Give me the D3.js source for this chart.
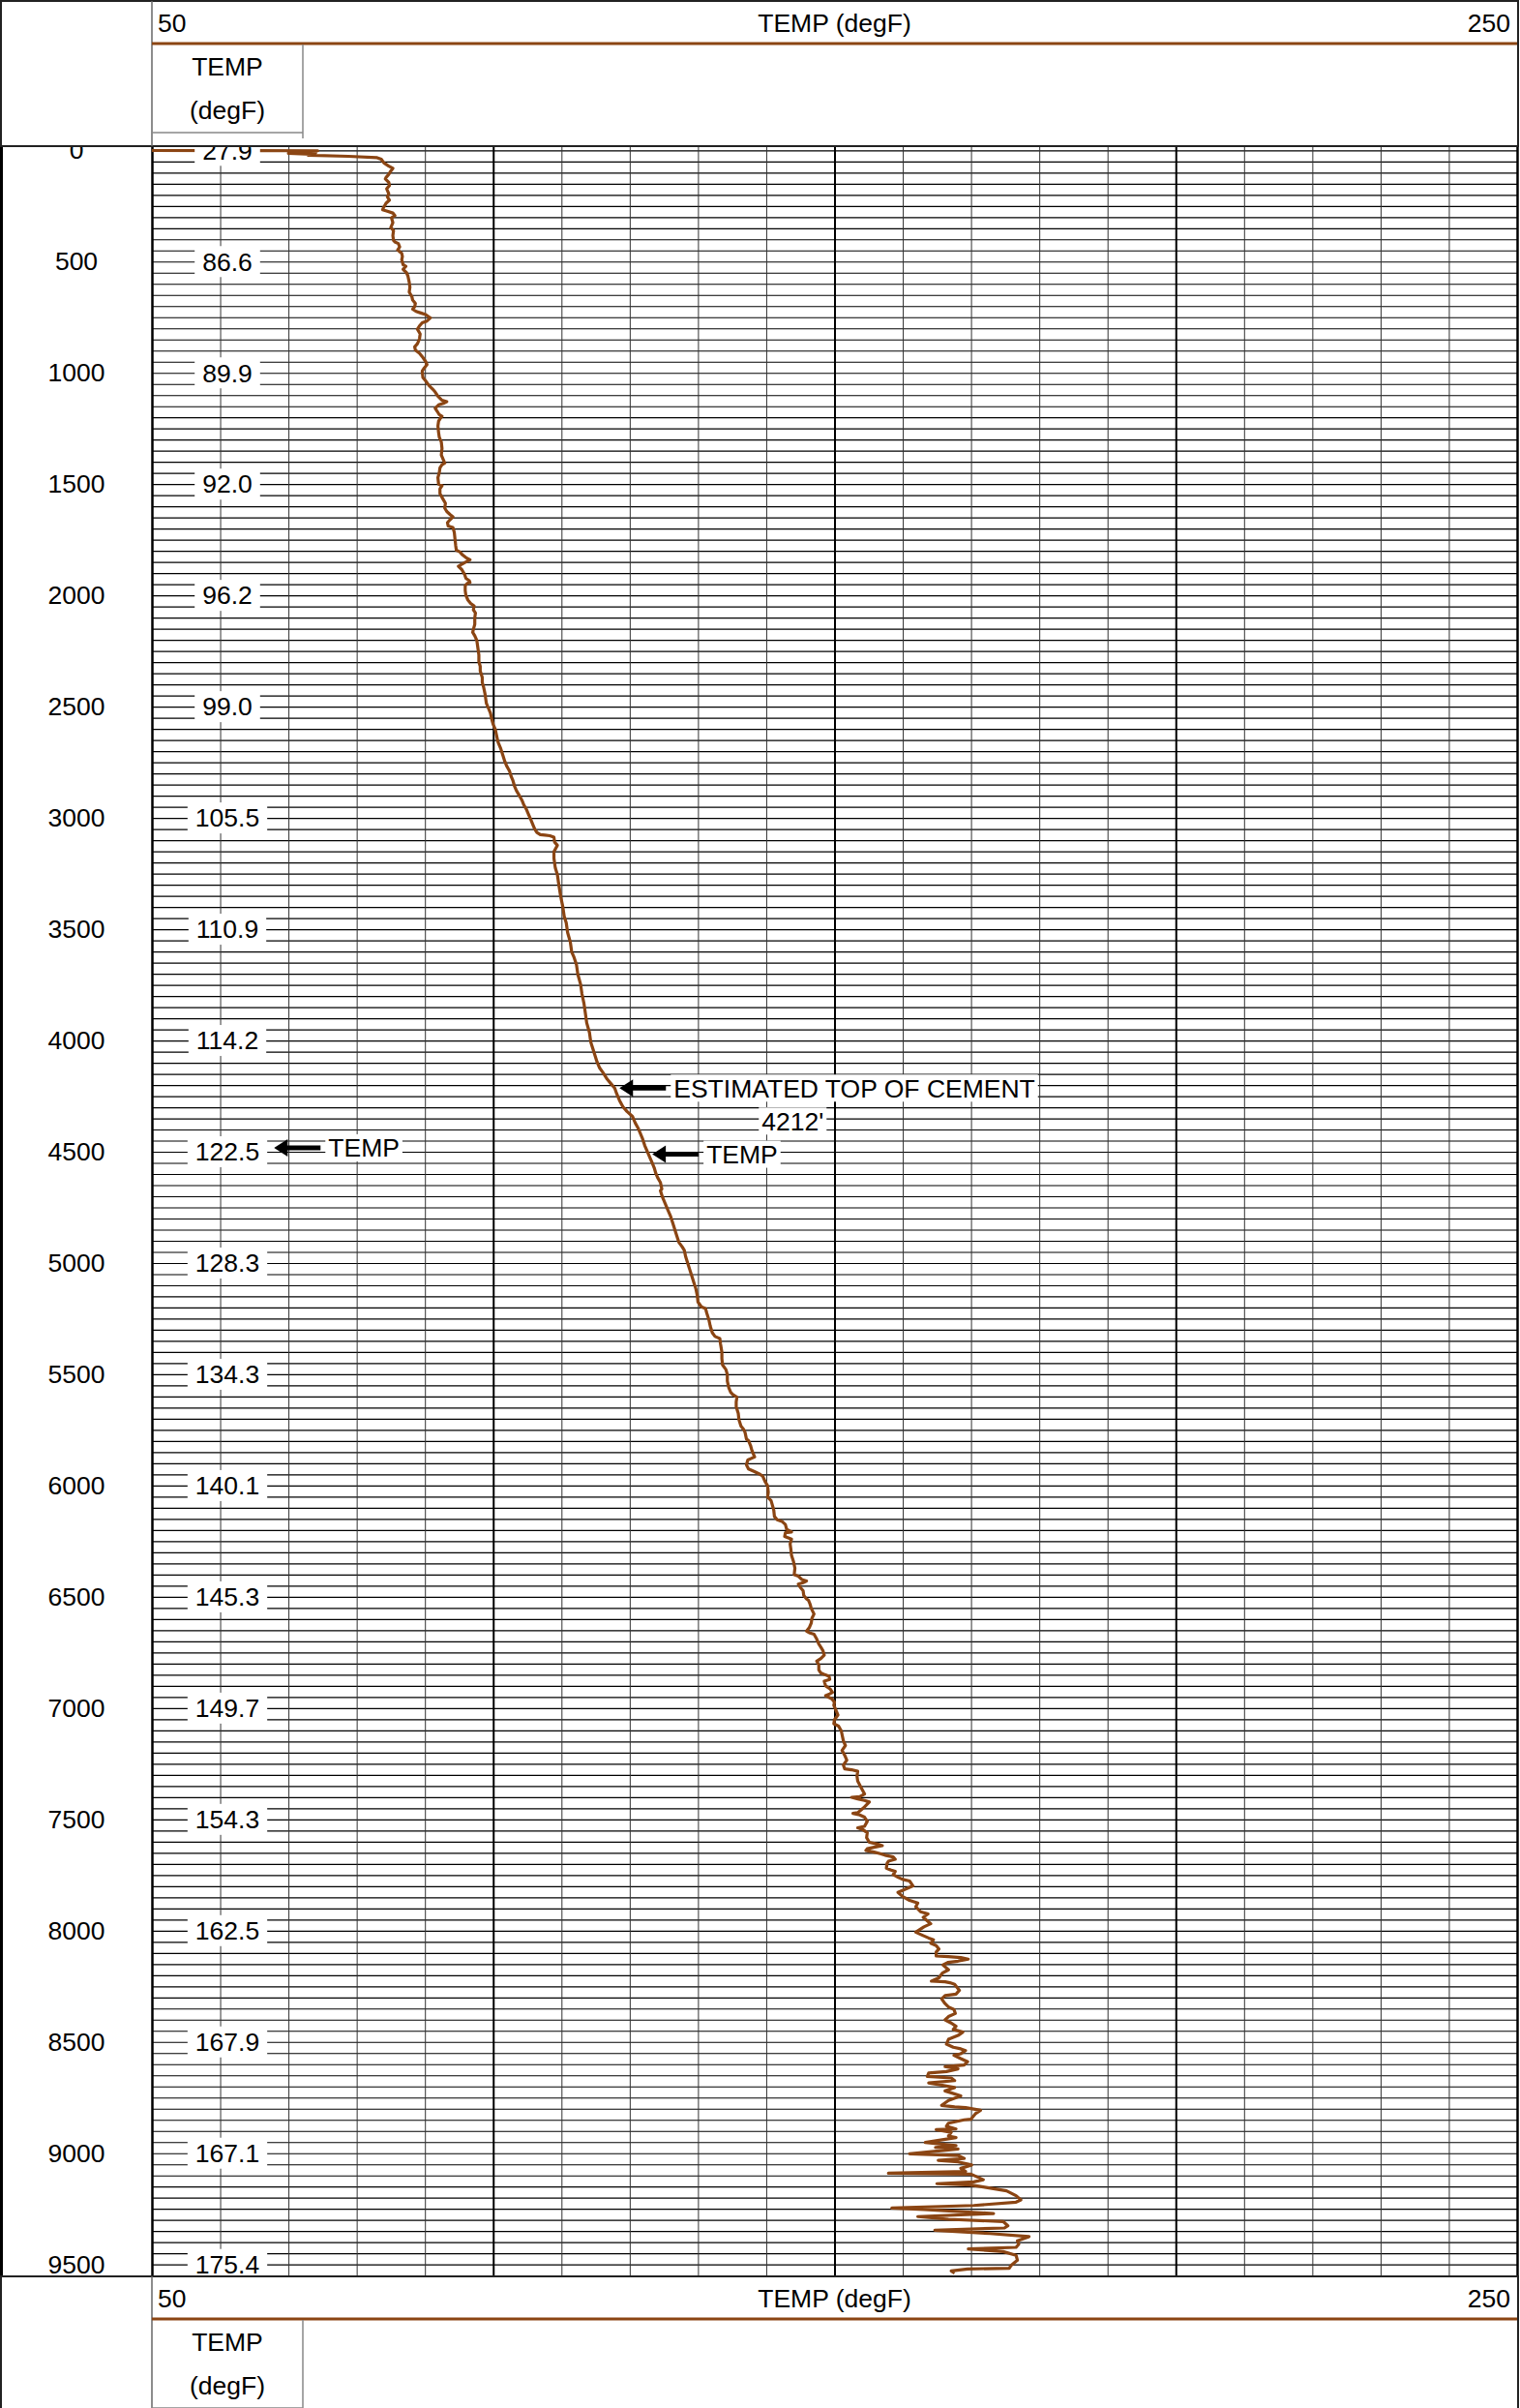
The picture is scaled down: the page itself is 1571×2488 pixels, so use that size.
<!DOCTYPE html>
<html>
<head>
<meta charset="utf-8">
<script src="https://cdn.jsdelivr.net/npm/d3@7"></script>
<style>
  body { margin: 0; background: #fff; }
  svg { display: block; }
</style>
</head>
<body>
<script>
const depthFt = [
  0, 2, 6, 10, 14, 18, 22, 27, 33, 40, 57, 71, 81, 93, 108, 122, 129, 144, 158, 173,
  195, 209, 224, 238, 260, 267, 274, 282, 293, 303, 325, 347, 361, 383, 405, 412, 419, 434, 448, 463,
  477, 492, 514, 521, 535, 550, 564, 593, 615, 637, 659, 673, 688, 702, 714, 724, 731, 738, 753, 767,
  775, 789, 804, 825, 847, 869, 883, 898, 912, 927, 949, 963, 978, 992, 1021, 1036, 1057, 1072, 1086, 1105,
  1123, 1130, 1137, 1144, 1159, 1173, 1188, 1195, 1207, 1217, 1239, 1268, 1289, 1311, 1340, 1369, 1391, 1405, 1413, 1427,
  1449, 1471, 1500, 1507, 1521, 1543, 1565, 1586, 1608, 1623, 1637, 1647, 1659, 1673, 1688, 1695, 1717, 1746, 1775, 1797,
  1804, 1818, 1830, 1840, 1850, 1862, 1869, 1884, 1905, 1923, 1934, 1942, 1946, 1956, 1978, 2000, 2021, 2036, 2047, 2065,
  2079, 2101, 2130, 2152, 2166, 2181, 2202, 2224, 2246, 2268, 2297, 2319, 2340, 2369, 2391, 2413, 2442, 2464, 2485, 2507,
  2529, 2558, 2580, 2601, 2630, 2659, 2688, 2717, 2746, 2768, 2790, 2811, 2833, 2855, 2877, 2898, 2920, 2942, 2964, 2986,
  3007, 3029, 3051, 3065, 3075, 3077, 3080, 3087, 3109, 3123, 3152, 3181, 3225, 3254, 3297, 3355, 3399, 3442, 3471, 3515,
  3558, 3602, 3623, 3660, 3703, 3747, 3790, 3834, 3877, 3921, 3964, 4008, 4037, 4066, 4095, 4124, 4145, 4174, 4196, 4214,
  4240, 4269, 4298, 4319, 4341, 4370, 4392, 4414, 4443, 4472, 4501, 4522, 4551, 4573, 4595, 4617, 4638, 4667, 4675, 4704,
  4733, 4762, 4791, 4820, 4849, 4878, 4907, 4928, 4943, 4972, 5001, 5030, 5059, 5088, 5117, 5146, 5175, 5197, 5204, 5226,
  5255, 5284, 5313, 5330, 5339, 5363, 5400, 5429, 5458, 5479, 5501, 5530, 5559, 5581, 5591, 5603, 5624, 5646, 5675, 5704,
  5733, 5748, 5762, 5791, 5798, 5820, 5842, 5871, 5878, 5885, 5907, 5925, 5936, 5948, 5958, 5980, 6001, 6030, 6052, 6067,
  6088, 6110, 6139, 6154, 6161, 6175, 6197, 6209, 6212, 6229, 6241, 6262, 6284, 6313, 6342, 6371, 6400, 6407, 6422, 6429,
  6436, 6443, 6458, 6472, 6494, 6509, 6516, 6531, 6552, 6577, 6596, 6617, 6639, 6654, 6661, 6668, 6690, 6712, 6726, 6741,
  6762, 6777, 6789, 6806, 6828, 6842, 6850, 6857, 6871, 6879, 6900, 6915, 6929, 6936, 6944, 6958, 6973, 6987, 7009, 7031,
  7052, 7070, 7081, 7103, 7118, 7147, 7168, 7190, 7212, 7234, 7256, 7273, 7277, 7284, 7306, 7328, 7357, 7386, 7398, 7401,
  7408, 7415, 7422, 7444, 7470, 7473, 7480, 7490, 7509, 7531, 7538, 7545, 7560, 7582, 7603, 7611, 7618, 7625, 7632, 7640,
  7647, 7654, 7661, 7669, 7679, 7688, 7698, 7719, 7727, 7734, 7748, 7760, 7770, 7777, 7799, 7828, 7847, 7864, 7876, 7893,
  7915, 7925, 7940, 7951, 7969, 7983, 8007, 8021, 8033, 8041, 8056, 8067, 8082, 8096, 8114, 8117, 8121, 8128, 8137, 8143,
  8154, 8176, 8191, 8212, 8227, 8230, 8234, 8241, 8268, 8285, 8292, 8307, 8328, 8343, 8354, 8372, 8386, 8401, 8415, 8430,
  8444, 8456, 8471, 8488, 8510, 8524, 8531, 8539, 8553, 8560, 8575, 8589, 8604, 8611, 8621, 8633, 8640, 8655, 8662, 8674,
  8684, 8698, 8705, 8720, 8742, 8763, 8785, 8792, 8795, 8807, 8821, 8847, 8850, 8865, 8879, 8891, 8894, 8906, 8923, 8930,
  8952, 8966, 8974, 8981, 9003, 9010, 9024, 9032, 9039, 9053, 9068, 9082, 9090, 9094, 9119, 9129, 9137, 9143, 9152, 9169,
  9191, 9210, 9220, 9235, 9246, 9253, 9271, 9285, 9297, 9307, 9326, 9336, 9346, 9361, 9375, 9394, 9409, 9423, 9430, 9442,
  9459, 9481, 9503, 9517, 9520, 9529, 9539
];

const tempDegF = [
  27.9, 74.3, 70.0, 74.0, 70.0, 73.5, 72.9, 78.8, 83.0, 83.6, 84.0, 84.7, 85.3, 85.0, 84.7, 84.3, 84.2, 84.7, 84.8, 84.4,
  84.7, 84.5, 84.8, 84.3, 83.9, 83.8, 84.5, 85.3, 85.6, 85.1, 85.3, 85.0, 85.4, 85.3, 85.4, 85.6, 86.1, 86.3, 86.0, 86.6,
  86.7, 86.6, 86.8, 87.2, 86.8, 87.3, 87.5, 87.7, 87.8, 87.7, 88.1, 88.2, 88.6, 88.5, 88.2, 88.7, 89.4, 90.1, 90.8, 90.3,
  89.6, 89.2, 88.9, 89.3, 89.2, 88.9, 88.5, 88.6, 89.2, 89.6, 90.1, 90.3, 89.9, 89.6, 89.7, 90.1, 90.6, 91.1, 91.5, 91.9,
  92.5, 93.2, 92.7, 92.0, 91.5, 91.8, 92.1, 92.5, 92.2, 92.0, 91.9, 92.0, 92.1, 92.4, 92.5, 92.4, 92.7, 92.9, 92.5, 92.2,
  92.1, 91.9, 92.0, 92.5, 92.2, 92.2, 92.6, 93.0, 92.9, 93.2, 93.7, 94.1, 93.7, 93.3, 93.4, 94.1, 94.3, 94.4, 94.5, 94.6,
  95.1, 95.5, 96.0, 96.6, 96.0, 95.3, 94.9, 95.4, 95.8, 96.0, 96.5, 96.6, 96.2, 95.9, 95.9, 96.0, 96.3, 96.7, 97.2, 97.1,
  97.4, 97.3, 97.3, 97.1, 97.0, 97.3, 97.6, 97.7, 97.8, 97.9, 97.9, 98.1, 98.1, 98.4, 98.4, 98.6, 98.8, 98.9, 99.0, 99.3,
  99.6, 99.8, 100.0, 100.3, 100.5, 100.7, 101.1, 101.4, 101.7, 102.0, 102.4, 102.6, 102.9, 103.1, 103.4, 103.8, 104.2, 104.5, 104.9, 105.2,
  105.5, 105.8, 106.1, 106.4, 106.9, 107.6, 108.3, 108.9, 109.0, 109.4, 108.9, 108.9, 109.1, 109.4, 109.6, 109.9, 110.2, 110.4, 110.7, 110.9,
  111.3, 111.5, 111.8, 112.2, 112.4, 112.8, 113.0, 113.3, 113.5, 113.7, 114.1, 114.3, 114.6, 114.9, 115.2, 115.6, 116.1, 116.7, 117.3, 117.8,
  118.1, 118.5, 119.0, 119.6, 120.4, 120.8, 121.2, 121.5, 121.9, 122.2, 122.6, 122.9, 123.3, 123.6, 123.8, 124.1, 124.5, 124.7, 124.5, 124.8,
  125.2, 125.6, 126.0, 126.3, 126.6, 126.9, 127.2, 127.7, 128.0, 128.2, 128.5, 128.8, 129.1, 129.4, 129.7, 129.9, 130.0, 130.5, 131.1, 131.3,
  131.6, 131.8, 132.1, 132.5, 133.2, 133.3, 133.5, 133.5, 133.6, 134.1, 134.3, 134.3, 134.5, 134.8, 135.1, 135.7, 135.6, 135.6, 135.9, 136.0,
  136.3, 136.7, 136.9, 137.1, 137.4, 137.7, 137.9, 138.3, 137.8, 137.3, 137.1, 137.4, 138.2, 139.0, 139.5, 139.8, 140.2, 140.3, 140.2, 140.7,
  140.9, 141.1, 141.2, 141.6, 142.3, 142.8, 143.0, 143.7, 142.8, 142.7, 143.7, 143.5, 143.6, 143.7, 144.0, 144.2, 144.1, 144.7, 145.2, 145.9,
  145.4, 144.7, 145.0, 145.4, 145.5, 145.9, 146.2, 146.4, 146.6, 147.0, 146.7, 146.6, 146.3, 145.9, 146.3, 147.0, 147.4, 147.7, 148.0, 148.3,
  148.5, 148.0, 147.4, 147.7, 147.7, 148.0, 148.6, 149.2, 149.3, 148.5, 148.7, 149.4, 149.7, 149.3, 148.7, 149.6, 150.0, 149.9, 150.2, 150.5,
  150.0, 149.9, 150.6, 151.0, 151.1, 151.3, 151.6, 151.1, 151.5, 151.8, 151.3, 151.5, 152.5, 153.4, 153.3, 153.4, 153.9, 154.4, 153.7, 152.5,
  153.4, 154.4, 155.1, 154.4, 153.4, 152.7, 153.7, 154.4, 154.8, 154.4, 153.4, 154.1, 154.8, 154.7, 155.1, 156.3, 157.0, 155.8, 154.8, 154.6,
  155.8, 156.7, 157.4, 158.6, 158.9, 157.9, 157.7, 157.6, 158.2, 158.9, 158.6, 159.3, 160.0, 161.0, 161.5, 159.3, 160.0, 161.0, 162.2, 161.9,
  162.6, 163.7, 163.0, 163.4, 164.1, 163.1, 161.9, 162.9, 163.8, 164.5, 164.1, 164.9, 165.3, 164.9, 164.9, 166.7, 168.5, 169.6, 168.1, 166.6,
  165.9, 166.7, 165.8, 165.3, 164.2, 166.2, 166.9, 167.6, 168.3, 167.8, 166.2, 165.7, 166.2, 166.7, 167.5, 167.7, 166.7, 166.2, 167.1, 167.8,
  167.4, 168.8, 168.1, 166.7, 166.4, 167.4, 168.5, 169.2, 168.5, 167.5, 168.5, 169.5, 169.0, 166.2, 168.1, 166.4, 163.8, 163.6, 167.1, 167.6,
  163.8, 166.4, 167.6, 166.2, 168.5, 166.7, 165.7, 167.6, 169.2, 171.4, 170.7, 170.0, 169.0, 166.7, 166.4, 167.8, 164.9, 167.1, 166.7, 167.8,
  163.3, 167.8, 164.8, 168.1, 161.0, 168.1, 169.0, 165.2, 168.1, 170.1, 168.5, 169.2, 157.9, 170.0, 171.8, 170.4, 165.0, 170.0, 171.8, 175.2,
  176.6, 177.3, 176.6, 170.4, 158.4, 163.1, 173.3, 162.2, 166.7, 174.7, 175.4, 174.9, 164.7, 172.8, 178.5, 176.8, 177.0, 176.6, 169.6, 174.7,
  176.6, 176.8, 175.9, 175.6, 169.5, 167.1, 167.6
];

const labelDepths = d3.range(0, 9501, 500);
const labelTemps = [27.9, 86.6, 89.9, 92.0, 96.2, 99.0, 105.5, 110.9, 114.2, 122.5,
  128.3, 134.3, 140.1, 145.3, 149.7, 154.3, 162.5, 167.9, 167.1, 175.4];

const noteText = [["TEMP"], ["ESTIMATED TOP OF CEMENT", "4212'"], ["TEMP"]];
const noteDepth = [4480, 4212, 4509];
const noteTipTemp = [67.9, 118.5, 123.3];

const W = 1571, H = 2488;
const trackL = 157, trackR = 1568, gridTop = 152, gridBot = 2352;
const brown = "#8b4513";
const font = "'Liberation Sans', Arial, sans-serif";
const fontSize = 26.5;

const x = d3.scaleLinear().domain([50, 250]).range([trackL, trackR]);
const y = d3.scaleLinear().domain([0, 9500]).range([155.3, 2339.7]);

const svg = d3.select("body").append("svg")
    .attr("width", W)
    .attr("height", H)
    .attr("font-family", font)
    .attr("font-size", fontSize);

svg.append("defs").append("clipPath").attr("id", "track")
  .append("rect")
    .attr("x", trackL).attr("y", gridTop)
    .attr("width", trackR - trackL).attr("height", gridBot - gridTop);

// depth grid, every 50 ft
const hGrid = svg.append("g")
    .attr("transform", `translate(${trackL},0)`)
    .call(d3.axisLeft(y).tickValues(d3.range(0, 9551, 50)).tickSize(-(trackR - trackL)).tickFormat(""));
hGrid.select(".domain").remove();
hGrid.selectAll("line").attr("stroke", "#000").attr("stroke-width", 1.2);

// temperature grid, every 10 degF
const vGrid = svg.append("g")
    .attr("transform", `translate(0,${gridTop})`)
    .call(d3.axisTop(x).tickValues(d3.range(50, 251, 10)).tickSize(-(gridBot - gridTop)).tickFormat(""));
vGrid.select(".domain").remove();
vGrid.selectAll(".tick line")
    .attr("stroke", d => d % 50 === 0 ? "#000" : "#333")
    .attr("stroke-width", d => (d === 50 || d === 250) ? 2.5 : d % 50 === 0 ? 2 : 1);

svg.append("line")
    .attr("x1", 1.5).attr("x2", 1.5).attr("y1", gridTop - 2).attr("y2", gridBot)
    .attr("stroke", "#000").attr("stroke-width", 3);

// curve
const line = d3.line()
    .x(i => x(tempDegF[i]))
    .y(i => y(depthFt[i]));

svg.append("path")
    .datum(d3.range(depthFt.length))
    .attr("clip-path", "url(#track)")
    .attr("fill", "none")
    .attr("stroke", brown)
    .attr("stroke-width", 3.2)
    .attr("stroke-linejoin", "round")
    .attr("d", line);

// depth labels
const depthAxis = svg.append("g")
    .attr("transform", "translate(79,0)")
    .call(d3.axisLeft(y).tickValues(labelDepths).tickSize(0).tickPadding(0).tickFormat(d3.format("d")));
depthAxis.select(".domain").remove();
depthAxis.attr("font-family", font).attr("font-size", fontSize);
depthAxis.selectAll("text").attr("x", 0).attr("text-anchor", "middle").attr("fill", "#000");

// curve value labels
const vals = svg.append("g").selectAll("g")
    .data(labelDepths)
    .enter().append("g")
    .attr("transform", d => `translate(235,${y(d)})`);

vals.append("rect").attr("fill", "#fff");
vals.append("text")
    .attr("text-anchor", "middle")
    .attr("dy", "0.35em")
    .text((d, i) => labelTemps[i].toFixed(1));
vals.each(function() {
  const g = d3.select(this);
  const w = g.select("text").node().getComputedTextLength() + 16;
  g.select("rect").attr("x", -w / 2).attr("y", -16).attr("width", w).attr("height", 32);
});

// annotations with arrows
noteText.forEach((lines, k) => {
  const yc = y(noteDepth[k]) + 0.5;
  const tip = x(noteTipTemp[k]);
  const tail = tip + 48;
  const g = svg.append("g");
  g.append("line")
      .attr("x1", tip + 10).attr("x2", tail).attr("y1", yc).attr("y2", yc)
      .attr("stroke", "#000").attr("stroke-width", 5);
  g.append("path")
      .attr("d", `M${tip},${yc}L${tip + 14},${yc - 9}L${tip + 14},${yc + 9}Z`)
      .attr("fill", "#000");
  lines.forEach((s, j) => {
    const tx = tail + 8 + (j ? 91 : 0);
    const ty = yc + j * 34;
    const box = g.append("rect").attr("fill", "#fff");
    const t = g.append("text")
        .attr("x", tx).attr("y", ty).attr("dy", "0.35em")
        .text(s);
    const w = t.node().getComputedTextLength();
    box.attr("x", tx - 3).attr("y", ty - 14).attr("width", w + 6).attr("height", 28);
  });
});

// header and footer
function drawHeader(top) {
  const g = svg.append("g").attr("transform", `translate(0,${top})`);
  g.append("rect")
      .attr("x", 1).attr("y", 1).attr("width", W - 3).attr("height", 150)
      .attr("fill", "#fff").attr("stroke", "#222").attr("stroke-width", 2);
  g.append("line")
      .attr("x1", trackL).attr("x2", trackL).attr("y1", 1).attr("y2", 151)
      .attr("stroke", "#666").attr("stroke-width", 1.5);
  g.append("text").attr("x", trackL + 6).attr("y", 33).text("50");
  g.append("text").attr("x", (trackL + trackR) / 2).attr("y", 33)
      .attr("text-anchor", "middle").text("TEMP (degF)");
  g.append("text").attr("x", trackR - 7).attr("y", 33)
      .attr("text-anchor", "end").text("250");
  g.append("line")
      .attr("x1", trackL).attr("x2", trackR).attr("y1", 45).attr("y2", 45)
      .attr("stroke", brown).attr("stroke-width", 3);
  g.append("path")
      .attr("d", `M${trackL},137H313M313,46V143`)
      .attr("fill", "none").attr("stroke", "#888").attr("stroke-width", 1.5);
  g.append("text").attr("x", 235).attr("y", 78).attr("text-anchor", "middle").text("TEMP");
  g.append("text").attr("x", 235).attr("y", 123).attr("text-anchor", "middle").text("(degF)");
}

drawHeader(0);
drawHeader(gridBot - 1);
</script>
</body>
</html>
